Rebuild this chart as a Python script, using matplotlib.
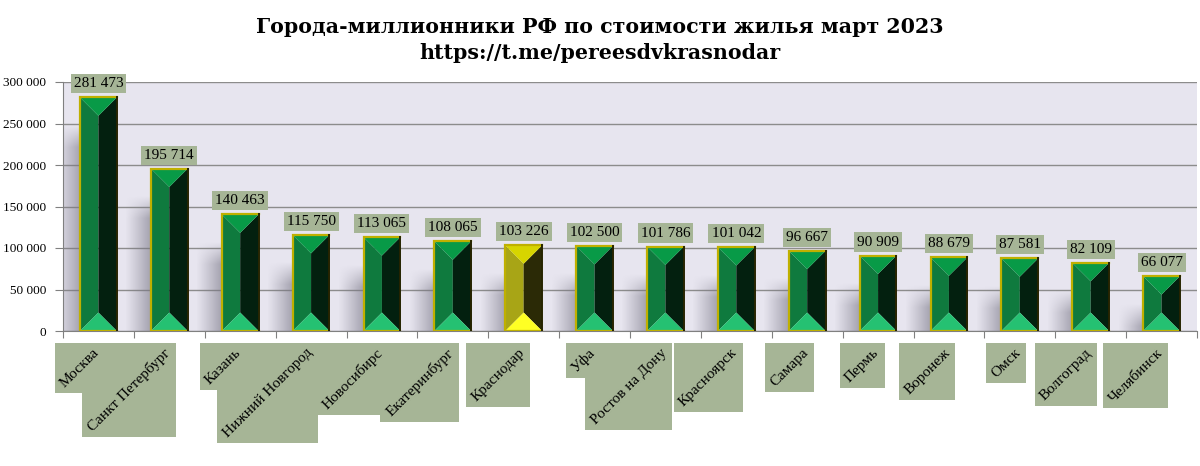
import numpy as np
import matplotlib.pyplot as plt
from matplotlib.patches import Polygon, Rectangle
from matplotlib.transforms import IdentityTransform

# данные: цена кв. м, руб., март 2023
cities = ['Москва', 'Санкт Петербург', 'Казань', 'Нижний Новгород', 'Новосибирс',
          'Екатеринбург', 'Краснодар', 'Уфа', 'Ростов на Дону', 'Красноярск',
          'Самара', 'Пермь', 'Воронеж', 'Омск', 'Волгоград', 'Челябинск']
prices = [281473, 195714, 140463, 115750, 113065, 108065, 103226, 102500,
          101786, 101042, 96667, 90909, 88679, 87581, 82109, 66077]
highlight = 'Краснодар'
yticks = [0, 50000, 100000, 150000, 200000, 250000, 300000]

title1 = 'Города-миллионники РФ по стоимости жилья март 2023'
title2 = 'https://t.me/pereesdvkrasnodar'

green = dict(left='#0f7a3e', right='#03200f', top='#089a47', bottom='#25c172')
yellow = dict(left='#a8a516', right='#2b2a06', top='#d7d500', bottom='#ffff24')
box_color = '#a6b596'

plt.rcParams['font.family'] = ['Liberation Serif', 'DejaVu Serif']

W, H = 1200, 466
fig = plt.figure(figsize=(W / 100, H / 100), dpi=100)
ax = fig.add_axes([63 / W, 135 / H, 1134 / W, 249 / H])
ax.set_facecolor('#e7e5ef')
n = len(cities)
ax.set_xlim(-0.5, n - 0.5)
ax.set_ylim(0, 300000)

# pixel <-> data scale
o = ax.transData.transform((0, 0))
px_x = ax.transData.transform((1, 0))[0] - o[0]
px_y = ax.transData.transform((0, 1))[1] - o[1]

bw = 0.52
half = bw / 2
bevel = half * px_x / px_y

# soft shadows to the left of the bars
ny, nx = 300, 40
for i, v in enumerate(prices):
    x1 = i - half
    x0 = x1 - 0.36
    top = v - 28 / px_y
    fade = 22 / px_y
    ys = np.linspace(top, 0, ny)
    av = np.clip((top - ys) / fade, 0, 1)
    ah = np.linspace(0, 1, nx) ** 1.1
    alpha = 0.6 * av[:, None] * ah[None, :]
    img = np.zeros((ny, nx, 4))
    img[..., 0] = 0.47
    img[..., 1] = 0.46
    img[..., 2] = 0.52
    img[..., 3] = alpha
    ax.imshow(img, extent=(x0, x1, 0, top), aspect='auto', zorder=1,
              interpolation='bilinear')

for i, (c, v) in enumerate(zip(cities, prices)):
    col = yellow if c == highlight else green
    L, R, C, T, B = i - half, i + half, i, v, 0
    ax.add_patch(Polygon([(L, T), (C, T - bevel), (C, B + bevel), (L, B)],
                         closed=True, fc=col['left'], ec='none', zorder=3))
    ax.add_patch(Polygon([(R, T), (C, T - bevel), (C, B + bevel), (R, B)],
                         closed=True, fc=col['right'], ec='none', zorder=3))
    ax.add_patch(Polygon([(L, T), (R, T), (C, T - bevel)],
                         closed=True, fc=col['top'], ec='none', zorder=3))
    ax.add_patch(Polygon([(L, B), (R, B), (C, B + bevel)],
                         closed=True, fc=col['bottom'], ec='none', zorder=3))
    ax.plot([R, L, L, R], [T, T, B, B], color='#bfb000', lw=1.6, zorder=4,
            solid_joinstyle='miter')
    ax.plot([R, R], [T, B], color='#262400', lw=1.4, zorder=4)
    ax.annotate(f'{v:,}'.replace(',', ' '), (i, v), xytext=(0, 7),
                textcoords='offset pixels', ha='center', va='bottom',
                fontsize=11, zorder=6,
                bbox=dict(boxstyle='square,pad=0.2', fc=box_color, ec='none'))

ax.set_yticks(yticks)
ax.set_yticklabels([f'{t:,}'.replace(',', ' ') for t in yticks], fontsize=9.5)
ax.grid(axis='y', color='#8c8c8c', lw=1)
ax.set_axisbelow(True)
ax.set_xticks(np.arange(-0.5, n, 1))
ax.set_xticklabels([])
ax.tick_params(axis='y', length=6, color='#808080', pad=6)
ax.tick_params(axis='x', length=5, color='#808080')
for s in ['top', 'right']:
    ax.spines[s].set_visible(False)
for s in ['left', 'bottom']:
    ax.spines[s].set_color('#808080')

# category labels, rotated, with axis-aligned boxes
labels = []
for i, c in enumerate(cities):
    xp = ax.transData.transform((i, 0))[0] + 3.5
    t = fig.text(xp, H - 346, c, rotation=45, ha='right', va='top',
                 fontsize=11, transform=IdentityTransform(), zorder=5)
    labels.append(t)

fig.text(0.5, (H - 33) / H, title1, ha='center', va='baseline',
         fontsize=14.8, fontweight='bold', family='DejaVu Serif')
fig.text(0.5, (H - 59) / H, title2, ha='center', va='baseline',
         fontsize=14.8, fontweight='bold', family='DejaVu Serif')

fig.canvas.draw()
r = fig.canvas.get_renderer()
for t in labels:
    e = t.get_window_extent(r)
    fig.add_artist(Rectangle((e.x0 - 3, e.y0 - 3), e.width + 6, e.height + 6,
                             transform=IdentityTransform(), fc=box_color,
                             ec='none', zorder=4))

fig.savefig('out.png', dpi=100)
